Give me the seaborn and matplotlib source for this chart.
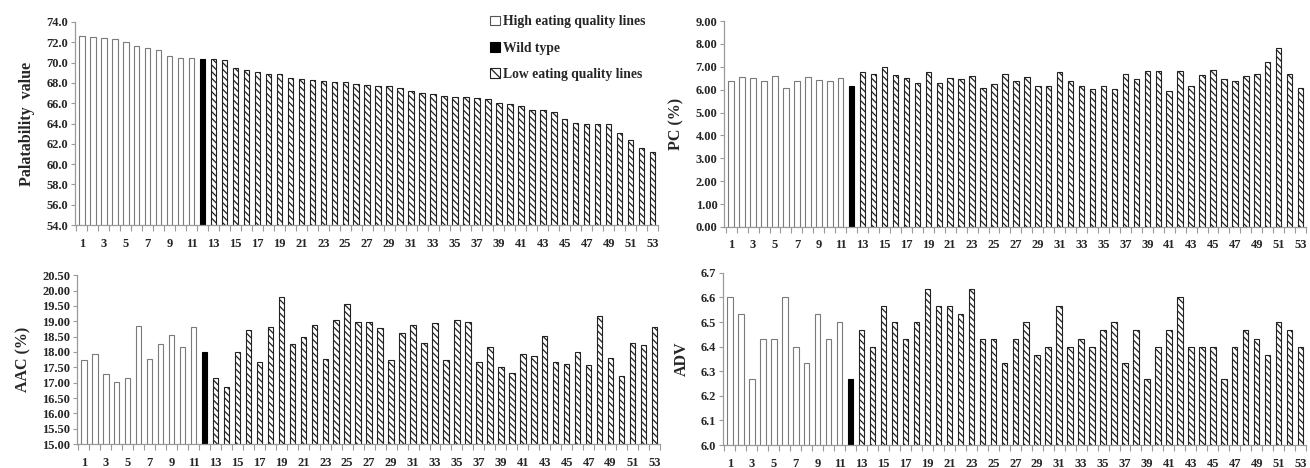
import numpy as np
import pandas as pd
import matplotlib
matplotlib.use("Agg")
import matplotlib.pyplot as plt
from matplotlib.patches import Patch
from matplotlib.ticker import FormatStrFormatter, MultipleLocator, FixedLocator
import seaborn as sns

# ---------------- data ----------------
lines = [str(i) for i in range(1, 54)]
groups_names = ["High eating quality lines", "Wild type", "Low eating quality lines"]

palatability = [72.65, 72.55, 72.42, 72.28, 71.99, 71.66, 71.43, 71.20, 70.70, 70.47,
                70.47, 70.40, 70.37, 70.30, 69.51, 69.25, 69.12, 68.85, 68.85, 68.46,
                68.36, 68.26, 68.19, 68.13, 68.09, 67.93, 67.77, 67.70, 67.67, 67.50,
                67.24, 66.98, 66.88, 66.75, 66.65, 66.58, 66.50, 66.38, 66.05, 65.95,
                65.69, 65.30, 65.30, 65.17, 64.44, 64.05, 63.95, 63.95, 63.95, 63.06,
                62.40, 61.64, 61.18]

pc = [6.37, 6.56, 6.52, 6.36, 6.60, 6.08, 6.37, 6.57, 6.41, 6.40,
      6.53, 6.15, 6.79, 6.69, 7.00, 6.66, 6.49, 6.28, 6.76, 6.28,
      6.52, 6.47, 6.59, 6.08, 6.27, 6.68, 6.37, 6.56, 6.15, 6.14,
      6.78, 6.36, 6.17, 6.03, 6.14, 6.05, 6.68, 6.47, 6.81, 6.81,
      5.95, 6.81, 6.17, 6.65, 6.84, 6.47, 6.40, 6.62, 6.68, 7.22,
      7.84, 6.68, 6.08]

aac = [17.74, 17.94, 17.29, 17.01, 17.14, 18.83, 17.78, 18.25, 18.54, 18.15,
       18.82, 18.00, 17.15, 16.87, 18.01, 18.71, 17.66, 18.80, 19.79, 18.25,
       18.50, 18.89, 17.77, 19.04, 19.56, 18.97, 18.98, 18.77, 17.73, 18.61,
       18.89, 18.30, 18.93, 17.75, 19.03, 18.98, 17.67, 18.16, 17.52, 17.33,
       17.92, 17.86, 18.53, 17.66, 17.60, 18.00, 17.56, 19.16, 17.79, 17.23,
       18.28, 18.24, 18.80]

adv = [6.600, 6.533, 6.267, 6.433, 6.433, 6.600, 6.400, 6.333, 6.533, 6.433,
       6.500, 6.267, 6.467, 6.400, 6.567, 6.500, 6.433, 6.500, 6.633, 6.567,
       6.567, 6.533, 6.633, 6.433, 6.433, 6.333, 6.433, 6.500, 6.367, 6.400,
       6.567, 6.400, 6.433, 6.400, 6.467, 6.500, 6.333, 6.467, 6.267, 6.400,
       6.467, 6.600, 6.400, 6.400, 6.400, 6.267, 6.400, 6.467, 6.433, 6.367,
       6.500, 6.467, 6.400]

group = [groups_names[0]] * 11 + [groups_names[1]] + [groups_names[2]] * 41

# ---------------- style ----------------
sns.set_style("ticks")
plt.rcParams["font.family"] = ["Liberation Serif", "DejaVu Serif"]
plt.rcParams["font.weight"] = "bold"
plt.rcParams["axes.labelweight"] = "bold"
plt.rcParams["hatch.linewidth"] = 0.9
plt.rcParams["hatch.color"] = "black"

fig = plt.figure(figsize=(13.1, 4.68), dpi=100)

panels = [
    # values, ylabel, ylim, step, fmt, rect
    (palatability, "Palatability  value", (54, 74), 2.0, "%.1f", [0.0573, 0.519, 0.445, 0.434]),
    (pc, "PC (%)", (0, 9), 1.0, "%.2f", [0.553, 0.515, 0.444, 0.440]),
    (aac, "AAC (%)", (15, 20.5), 0.5, "%.2f", [0.0588, 0.051, 0.445, 0.361]),
    (adv, "ADV", (6.0, 6.7), 0.1, "%.1f", [0.552, 0.049, 0.445, 0.368]),
]

palette = {groups_names[0]: "white", groups_names[1]: "black", groups_names[2]: "white"}
HATCH = "\\\\\\\\\\"
axis_gray = "#9a9a9a"

for vals, ylab, ylim, step, fmt, rect in panels:
    ax = fig.add_axes(rect)
    df = pd.DataFrame({"line": lines, "val": vals, "group": group})
    sns.barplot(data=df, x="line", y="val", hue="group", order=lines,
                hue_order=groups_names, palette=palette, dodge=False,
                width=0.5, legend=False, ax=ax)
    for ci, cont in enumerate(ax.containers):
        for bar in cont:
            if ci == 0:
                bar.set_edgecolor("#7a7a7a")
                bar.set_linewidth(0.8)
            elif ci == 1:
                bar.set_edgecolor("black")
                bar.set_linewidth(0.8)
            else:
                bar.set_edgecolor("#222222")
                bar.set_linewidth(0.8)
                bar.set_hatch(HATCH)
    ax.set_ylim(*ylim)
    ax.set_xlim(-0.62, 52.5)
    ax.yaxis.set_major_locator(MultipleLocator(step))
    ax.yaxis.set_major_formatter(FormatStrFormatter(fmt))
    ax.set_xticks(range(0, 53, 2))
    ax.set_xticklabels([lines[i] for i in range(0, 53, 2)])
    ax.xaxis.set_minor_locator(FixedLocator(np.arange(-0.5, 53, 1)))
    ax.tick_params(axis="x", which="major", length=0, pad=9, labelsize=9)
    ax.tick_params(axis="x", which="minor", length=4, color=axis_gray, width=0.8)
    ax.tick_params(axis="y", length=3, color=axis_gray, width=0.8, labelsize=9, pad=2)
    for lab in ax.get_xticklabels() + ax.get_yticklabels():
        lab.set_fontweight("bold")
    ax.set_xlabel("")
    ax.set_ylabel(ylab, fontsize=11.5, fontweight="bold", labelpad=8)
    sns.despine(ax=ax)
    ax.spines["left"].set_color(axis_gray)
    ax.spines["bottom"].set_color(axis_gray)
    ax.spines["left"].set_linewidth(0.9)
    ax.spines["bottom"].set_linewidth(0.9)
    if ylab.startswith("Palatability"):
        handles = [
            Patch(facecolor="white", edgecolor="#555555", linewidth=0.8),
            Patch(facecolor="black", edgecolor="black", linewidth=0.8),
            Patch(facecolor="white", edgecolor="#222222", linewidth=0.8, hatch="\\\\\\"),
        ]
        leg = ax.legend(handles, groups_names, loc="upper left",
                        bbox_to_anchor=(0.703, 1.06), frameon=False,
                        handlelength=0.7, handleheight=0.7, handletextpad=0.25,
                        labelspacing=0.98, borderaxespad=0,
                        prop={"family": ["Liberation Serif"], "weight": "bold", "size": 9.8})

fig.savefig("out.png", dpi=100)
